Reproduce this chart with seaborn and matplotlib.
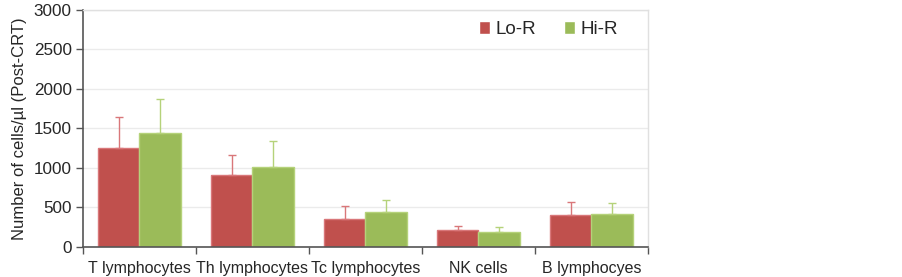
import numpy as np
import pandas as pd
import matplotlib
matplotlib.use("Agg")
import matplotlib.pyplot as plt
import seaborn as sns

categories = ["T lymphocytes", "Th lymphocytes", "Tc lymphocytes", "NK cells", "B lymphocyes"]
series = ["Lo-R", "Hi-R"]
lo_vals = [1250, 915, 355, 208, 398]
hi_vals = [1437, 1006, 440, 182, 414]
lo_err = [398, 250, 165, 58, 172]
hi_err = [440, 337, 148, 68, 144]
yticks = [0, 500, 1000, 1500, 2000, 2500, 3000]

colors = {"Lo-R": "#C0504D", "Hi-R": "#9BBB59"}
edge = {"Lo-R": "#D9777A", "Hi-R": "#B5D27A"}

sns.set_theme(style="white")
plt.rcParams['font.family'] = ['Liberation Sans', 'DejaVu Sans']

df = pd.DataFrame({
    "cat": categories * 2,
    "grp": ["Lo-R"] * len(categories) + ["Hi-R"] * len(categories),
    "val": lo_vals + hi_vals,
})

fig = plt.figure(figsize=(9.03, 2.77), dpi=100)
ax = fig.add_axes([83/903, 1 - 246.7/277, (648-83)/903, (246.7-10)/277])

sns.barplot(data=df, x="cat", y="val", hue="grp", order=categories, hue_order=series,
            palette=colors, width=0.74, errorbar=None, ax=ax, saturation=1, linewidth=1)

errs = {"Lo-R": lo_err, "Hi-R": hi_err}
vals = {"Lo-R": lo_vals, "Hi-R": hi_vals}
for cont, s in zip(ax.containers, series):
    for bar, v, e in zip(cont.patches, vals[s], errs[s]):
        bar.set_edgecolor(edge[s])
        xc = bar.get_x() + bar.get_width() / 2
        ax.errorbar([xc], [v], yerr=[[0], [e]], fmt="none", ecolor=edge[s],
                    elinewidth=1.0, capsize=3, capthick=1.0, zorder=3)

ax.set_ylim(0, 3000)
ax.set_xlim(-0.5, len(categories) - 0.5)
ax.set_yticks(yticks)
ax.set_yticklabels([str(t) for t in yticks], fontsize=12.3)
ax.yaxis.grid(True, color="#EBEBEB", linewidth=1)
ax.set_axisbelow(True)

ax.set_xticks(range(len(categories)))
ax.set_xticklabels(categories, fontsize=11.5)
ax.set_xticks(np.arange(-0.5, len(categories)), minor=True)
ax.tick_params(axis="x", which="major", length=0, pad=10)
ax.tick_params(axis="x", which="minor", length=5, width=1, color="#555555", direction="out", bottom=True)
ax.tick_params(axis="y", which="major", length=5, width=1, color="#555555", direction="out", left=True, pad=3)

ax.set_xlabel("")
ax.set_ylabel("Number of cells/µl (Post-CRT)", fontsize=12.0, labelpad=5)

for side in ["left", "bottom"]:
    ax.spines[side].set_color("#555555")
    ax.spines[side].set_linewidth(1.2)
for side in ["top", "right"]:
    ax.spines[side].set_visible(True)
    ax.spines[side].set_color("#E0E0E0")
    ax.spines[side].set_linewidth(1)

leg = ax.legend(loc="upper right", bbox_to_anchor=(0.97, 1.01), ncol=2, frameon=False,
                fontsize=13.5, handlelength=0.6, handleheight=0.7, handletextpad=0.3,
                columnspacing=1.45, borderaxespad=0.3)

fig.savefig("out.png", dpi=100)
